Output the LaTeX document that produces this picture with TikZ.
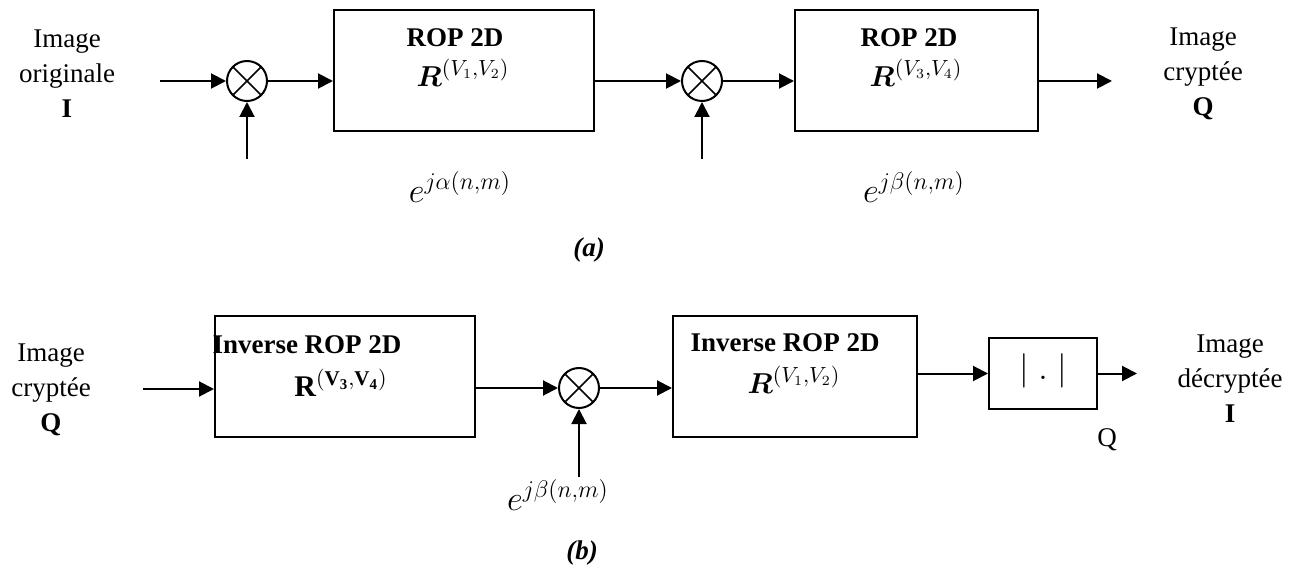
\documentclass[tikz,border=0pt]{standalone}
\usepackage{amsmath}
\usepackage{amssymb}
\usepackage{fontspec}
\setmainfont{Liberation Serif}
\usetikzlibrary{arrows.meta}

\tikzset{
    txt/.style={font=\fontsize{13.5}{17.5}\selectfont, inner sep=0pt, align=center},
    eq/.style={font=\fontsize{15}{18}\selectfont, inner sep=0pt},
    phase/.style={font=\fontsize{17.5}{20}\selectfont, inner sep=0pt},
    block/.style={draw, line width=1pt, inner sep=0pt},
    mult/.style={draw, circle, line width=1pt, minimum size=20pt, inner sep=0pt,
        path picture={\draw[line width=0.8pt]
            (path picture bounding box.north west) -- (path picture bounding box.south east)
            (path picture bounding box.south west) -- (path picture bounding box.north east);}},
    arr/.style={line width=1pt, -{Triangle[length=7.5pt,width=7.5pt]}}
}

\begin{document}
\begin{tikzpicture}[x=0.5pt, y=-0.5pt]
    \useasboundingbox (0,0) rectangle (1306,572);

    % (a) encryption
    \node[txt] (srcA) at (67,74) {Image\\originale\\\textbf{I}};
    \node[mult] (mult1) at (247,81) {};
    \node[block, minimum width=130pt, minimum height=60.5pt] (box1) at (464,70.5) {};
    \node[txt] (rop1) at (455,38) {\textbf{ROP 2D}};
    \node[eq] (r1) at (463,73) {$\boldsymbol{R}^{(V_1,V_2)}$};
    \node[mult] (mult2) at (702,81) {};
    \node[block, minimum width=121.5pt, minimum height=60.5pt] (box2) at (916.5,70.5) {};
    \node[txt] (rop2) at (909,38) {\textbf{ROP 2D}};
    \node[eq] (r2) at (916,73) {$\boldsymbol{R}^{(V_3,V_4)}$};
    \node[txt] (dstA) at (1203,74) {Image\\cryptée\\\textbf{Q}};
    \node[phase] (alpha) at (460,187) {$e^{j\alpha(n,m)}$};
    \node[phase] (beta1) at (914,187) {$e^{j\beta(n,m)}$};
    \node[txt] (capA) at (589,250) {\textbf{\textit{(a)}}};

    \coordinate (in1) at (160,81);
    \coordinate (ph1) at (247,159);
    \coordinate (ph2) at (702,159);
    \coordinate (out1) at (1112,81);
    \draw[arr] (in1) -- (mult1.west);
    \draw[arr] (ph1) -- (mult1.south);
    \draw[arr] (mult1.east) -- (mult1.east -| box1.west);
    \draw[arr] (mult2.west -| box1.east) -- (mult2.west);
    \draw[arr] (ph2) -- (mult2.south);
    \draw[arr] (mult2.east) -- (mult2.east -| box2.west);
    \draw[arr] (out1 -| box2.east) -- (out1);

    % (b) decryption
    \node[txt] (srcB) at (51,390) {Image\\cryptée\\\textbf{Q}};
    \node[block, minimum width=130pt, minimum height=60.5pt] (box3) at (345,376.5) {};
    \node[txt] (inv1) at (307,345) {\textbf{Inverse ROP 2D}};
    \node[eq] (r3) at (341,383) {$\mathbf{R}^{(\mathbf{V}_{\mathbf{3}},\mathbf{V}_{\mathbf{4}})}$};
    \node[mult] (mult3) at (579,388) {};
    \node[phase] (beta2) at (558,495) {$e^{j\beta(n,m)}$};
    \node[block, minimum width=122pt, minimum height=60.5pt] (box4) at (795,376.5) {};
    \node[txt] (inv2) at (785,343) {\textbf{Inverse ROP 2D}};
    \node[eq] (r4) at (794,380) {$\boldsymbol{R}^{(V_1,V_2)}$};
    \node[block, minimum width=54pt, minimum height=35.5pt] (absbox) at (1043,373.5) {};
    \node[phase] (abs) at (1043,371) {$|\;.\;|$};
    \node[txt] (q) at (1107,440) {Q};
    \node[txt] (dstB) at (1230,379) {Image\\décryptée\\\textbf{I}};
    \node[txt] (capB) at (582,553) {\textbf{\textit{(b)}}};

    \coordinate (in2) at (143,389);
    \coordinate (ph3) at (579,477);
    \coordinate (out2) at (1137,373.5);
    \draw[arr] (in2) -- (in2 -| box3.west);
    \draw[arr] (mult3.west -| box3.east) -- (mult3.west);
    \draw[arr] (ph3) -- (mult3.south);
    \draw[arr] (mult3.east) -- (mult3.east -| box4.west);
    \draw[arr] (absbox.west -| box4.east) -- (absbox.west);
    \draw[arr] (absbox.east) -- (out2);
\end{tikzpicture}
\end{document}
